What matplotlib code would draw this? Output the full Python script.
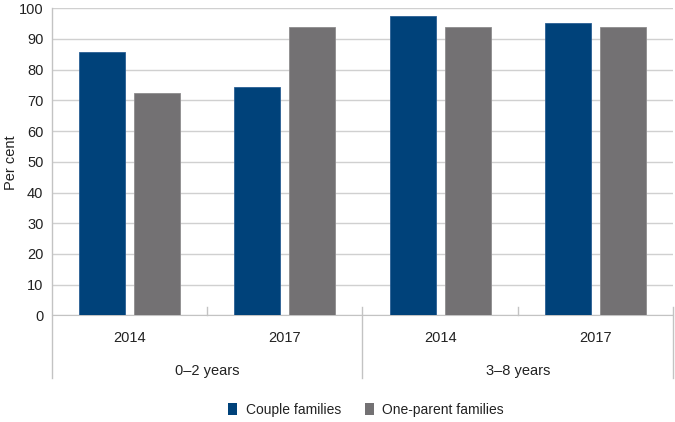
import numpy as np
import matplotlib.pyplot as plt
from matplotlib.lines import Line2D
from matplotlib.patches import Patch

plt.rcParams['font.family'] = ['Liberation Sans', 'DejaVu Sans']

# --- data ---
age_groups = ['0–2 years', '3–8 years']
years = ['2014', '2017', '2014', '2017']
couple = [85.7, 74.3, 97.5, 95.3]
one_parent = [72.5, 94.0, 93.8, 94.0]
series_names = ['Couple families', 'One-parent families']

blue = '#00427a'
grey = '#737173'
line_grey = '#c3c3c3'
txt = '#222222'
fs = 10.5

W, H = 675, 422
fig = plt.figure(figsize=(W / 100, H / 100), dpi=100)
# axes box in pixels: left 52, right 673, top 8, bottom (zero line) 315
x0, x1, y0, y1 = 51.7, 673.3, 8.3, 315.3
ax = fig.add_axes([x0 / W, 1 - y1 / H, (x1 - x0) / W, (y1 - y0) / H])

x = np.arange(len(years))
bw = 0.297
off = 0.177
ax.bar(x - off, couple, bw, color=blue, edgecolor='#2a5f94', linewidth=0.6, zorder=3)
ax.bar(x + off, one_parent, bw, color=grey, edgecolor='#8e8c8e', linewidth=0.6, zorder=3)

ax.set_xlim(-0.5, len(years) - 0.5)
ax.set_ylim(0, 100)
ax.set_yticks(np.arange(0, 101, 10))
ax.yaxis.grid(True, color='#d0d0d0', linewidth=1.0, zorder=0)
ax.set_axisbelow(True)
ax.tick_params(axis='y', length=0, pad=6, labelsize=fs, colors=txt)
ax.set_xticks([])
for s in ['top', 'right']:
    ax.spines[s].set_visible(False)
ax.spines['left'].set_visible(False)
ax.spines['bottom'].set_color(line_grey)

fig.text(11 / W, 1 - 163 / H, 'Per cent', rotation=90, ha='center', va='center',
         fontsize=fs, color=txt)

# category separators below the axis
ph = y1 - y0
sep_bot = -(378 - y1) / ph
tick_top = 8 / ph
for xf, top in [(0.0, 1.0), (0.5, tick_top), (1.0, tick_top)]:
    ax.add_line(Line2D([xf, xf], [sep_bot, top], transform=ax.transAxes,
                       color=line_grey, linewidth=1.0, clip_on=False))
for xf in [0.25, 0.75]:
    ax.add_line(Line2D([xf, xf], [0, tick_top], transform=ax.transAxes,
                       color=line_grey, linewidth=1.0, clip_on=False))

# year labels and age group labels
trans = ax.get_xaxis_transform()
for xi, yr in zip(x, years):
    ax.text(xi, -(338 - y1) / ph, yr, transform=trans, ha='center', va='center',
            fontsize=fs, color=txt)
for i, g in enumerate(age_groups):
    ax.text(0.25 + 0.5 * i, -(370.5 - y1) / ph, g, transform=ax.transAxes,
            ha='center', va='center', fontsize=fs, color=txt)

handles = [Patch(facecolor=blue), Patch(facecolor=grey)]
fig.legend(handles, series_names, loc='center', bbox_to_anchor=(366 / W, 1 - 410 / H),
           ncol=2, frameon=False, fontsize=10, handlelength=0.65, handleheight=0.9,
           handletextpad=0.6, columnspacing=1.7, labelcolor=txt)

fig.savefig('out.png', dpi=100)
